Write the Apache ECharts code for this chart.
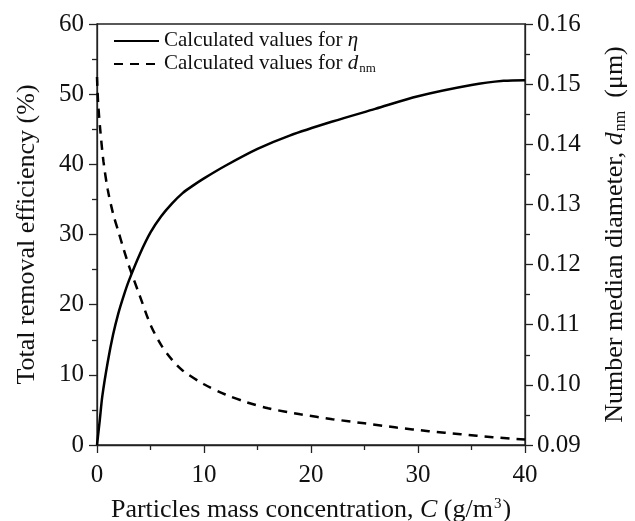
<!DOCTYPE html>
<html><head><meta charset="utf-8">
<script src="https://cdn.jsdelivr.net/npm/echarts@6/dist/echarts.min.js"></script>
<style>html,body{margin:0;padding:0;background:#fff}#c{width:635px;height:521px}</style>
</head><body><div id="c"></div>
<script>
// Calculated total removal efficiency eta (%) vs concentration C (g/m3)
const etaC = [0,0.25,0.5,1,1.5,2,2.5,3,4,5,6,7,8,9,10,12,15,18,22,26,30,35,38,40];
const etaV = [0,3.4,7,11.8,15.7,18.8,21.3,23.5,27.2,30.3,32.6,34.4,35.9,37.0,38.0,39.8,42.2,44.1,46.1,47.9,49.7,51.3,51.9,52.0];
// Calculated number median diameter d_nm (um) vs C
const dC = [0,0.1,0.3,0.6,1,1.5,2,2.5,3,4,5,6,7,8,10,12,14,16,19,22,25,28,31,34,37,40];
const dV = [0.1512,0.147,0.1425,0.1372,0.1325,0.1285,0.1255,0.1225,0.1197,0.1148,0.1100,0.1066,0.1042,0.1024,0.1001,0.0984,0.0971,0.0961,0.0951,0.0943,0.0936,0.0929,0.0923,0.0918,0.0913,0.0909];
const xTicks = [0,10,20,30,40];
const leftTicks = [0,10,20,30,40,50,60];
const rightTicks = [0.09,0.10,0.11,0.12,0.13,0.14,0.15,0.16];
const seriesNames = ['eta','dnm'];

const FONT = '"Liberation Serif","Times New Roman",serif';
const chart = echarts.init(document.getElementById('c'), null, {renderer:'canvas'});
const axisCommon = {
  axisLine:{show:true,onZero:false,lineStyle:{color:'#222',width:1.3}},
  axisTick:{show:true,inside:false,length:8,lineStyle:{color:'#222',width:1.3}},
  minorTick:{show:true,splitNumber:2,length:5,lineStyle:{color:'#222',width:1.3}},
  splitLine:{show:false},
  axisLabel:{color:'#111',fontFamily:FONT,fontSize:25}
};
chart.setOption({
  animation:false,
  grid:{left:97,right:110,top:24,bottom:76,show:true,borderColor:'#222',borderWidth:1.3,backgroundColor:'transparent',outerBoundsMode:'none',containLabel:false},
  legend:{
    orient:'vertical',left:113,top:30,padding:0,itemWidth:45,itemHeight:14,itemGap:0,
    data:seriesNames,
    itemStyle:{opacity:0,color:'transparent',borderWidth:0},
    textStyle:{fontFamily:FONT,fontSize:21,color:'#111',
      rich:{
        t:{fontFamily:FONT,fontSize:21,color:'#111',verticalAlign:'top',lineHeight:22},
        i:{fontFamily:FONT,fontSize:21,fontStyle:'italic',color:'#111',verticalAlign:'top',lineHeight:22},
        s:{fontFamily:FONT,fontSize:13,color:'#111',verticalAlign:'bottom',lineHeight:14,padding:[11,0,0,1]}
      }},
    formatter:function(n){
      return n==='eta' ? '{t|Calculated values for }{i|η}' : '{t|Calculated values for }{i|d}{s|nm}';
    }
  },
  xAxis:Object.assign({},axisCommon,{
    type:'value',min:0,max:40,interval:10,
    axisLabel:Object.assign({},axisCommon.axisLabel,{margin:18,customValues:xTicks}),
    name:'{t|Particles mass concentration, }{i|C}{t| (g/m}{p|3}{t|)}',
    nameLocation:'middle',nameGap:52,
    nameTextStyle:{fontFamily:FONT,fontSize:26,color:'#111',
      rich:{
        t:{fontFamily:FONT,fontSize:26,color:'#111',verticalAlign:'bottom',lineHeight:26},
        i:{fontFamily:FONT,fontSize:26,fontStyle:'italic',color:'#111',verticalAlign:'bottom',lineHeight:26},
        p:{fontFamily:FONT,fontSize:15,color:'#111',verticalAlign:'top',lineHeight:15,padding:[0,1,10,1]}
      }}
  }),
  yAxis:[
    Object.assign({},axisCommon,{
      type:'value',min:0,max:60,interval:10,position:'left',
      axisLabel:Object.assign({},axisCommon.axisLabel,{margin:13}),
      name:'Total removal efficiency (%)',nameLocation:'middle',nameGap:57,nameRotate:90,
      nameTextStyle:{fontFamily:FONT,fontSize:26,color:'#111'}
    }),
    Object.assign({},axisCommon,{
      type:'value',min:0.09,max:0.16,interval:0.01,position:'right',
      axisLabel:Object.assign({},axisCommon.axisLabel,{margin:12,formatter:v=>v.toFixed(2)}),
      name:'{t|Number median diameter, }{i|d}{s|nm}{t|  (μm)}',nameLocation:'middle',nameGap:77,nameRotate:90,
      nameTextStyle:{fontFamily:FONT,fontSize:26,color:'#111',
        rich:{
          t:{fontFamily:FONT,fontSize:26,color:'#111',verticalAlign:'top',lineHeight:27},
          i:{fontFamily:FONT,fontSize:26,fontStyle:'italic',color:'#111',verticalAlign:'top',lineHeight:27},
          s:{fontFamily:FONT,fontSize:16,color:'#111',verticalAlign:'bottom',lineHeight:16,padding:[15,0,0,1]}
        }}
    })
  ],
  series:[
    {name:'eta',type:'line',yAxisIndex:0,smooth:0.3,symbol:'none',showSymbol:false,
     data:etaC.map((c,i)=>[c,etaV[i]]),lineStyle:{color:'#000',width:2.5,type:'solid'},itemStyle:{color:'#000'}},
    {name:'dnm',type:'line',yAxisIndex:1,smooth:0.3,symbol:'none',showSymbol:false,
     data:dC.map((c,i)=>[c,dV[i]]),lineStyle:{color:'#000',width:2.5,type:[9,7]},itemStyle:{color:'#000'}}
  ]
});
</script></body></html>
